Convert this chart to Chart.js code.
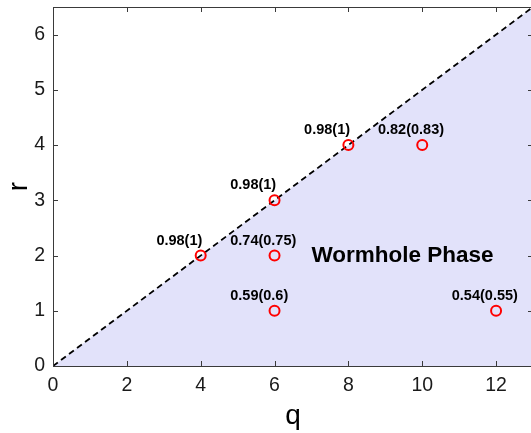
<!DOCTYPE html>
<html>
<head>
<meta charset="utf-8">
<script src="https://cdn.jsdelivr.net/npm/chart.js@4/dist/chart.umd.min.js"></script>
<style>
html,body{margin:0;padding:0;overflow:hidden;background:#fff;}
</style>
</head>
<body>
<canvas id="c" width="540" height="433"></canvas>
<script>
// ---- data ----
const pointQ = [4, 6, 8, 10, 6, 6, 12];
const pointR = [2, 3, 4, 4, 2, 1, 1];
const pointLabels = ["0.98(1)", "0.98(1)", "0.98(1)", "0.82(0.83)", "0.74(0.75)", "0.59(0.6)", "0.54(0.55)"];
const boundaryQ = [0, 13];
const boundaryR = [0, 6.5];
const xTicks = [0, 2, 4, 6, 8, 10, 12];
const yTicks = [0, 1, 2, 3, 4, 5, 6];
const regionLabel = "Wormhole Phase";
const regionQ = 7;
const regionR = 2;

const FONT = "'Liberation Sans', Arial, Helvetica, sans-serif";

const framePlugin = {
  id: 'frame',
  afterDatasetsDraw(chart) {
    const {ctx, chartArea: a, scales: {x, y}} = chart;
    ctx.save();
    ctx.fillStyle = '#000';
    ctx.font = 'bold 14.5px ' + FONT;
    ctx.textAlign = 'left';
    ctx.textBaseline = 'middle';
    pointLabels.forEach((t, i) => {
      ctx.fillText(t, x.getPixelForValue(pointQ[i] - 1.2), y.getPixelForValue(pointR[i] + 0.27));
    });
    ctx.font = 'bold 22.5px ' + FONT;
    ctx.fillText(regionLabel, x.getPixelForValue(regionQ), y.getPixelForValue(regionR));
    ctx.strokeStyle = '#3a3a3a';
    ctx.lineWidth = 1;
    ctx.strokeRect(Math.round(a.left) + 0.5, Math.round(a.top) + 0.5, Math.round(a.right - a.left), Math.round(a.bottom - a.top));
    ctx.beginPath();
    const L = 5;
    x.ticks.forEach(t => {
      const px = Math.round(x.getPixelForValue(t.value)) + 0.5;
      ctx.moveTo(px, a.bottom); ctx.lineTo(px, a.bottom - L);
      ctx.moveTo(px, a.top); ctx.lineTo(px, a.top + L);
    });
    y.ticks.forEach(t => {
      const py = Math.round(y.getPixelForValue(t.value)) + 0.5;
      ctx.moveTo(a.left, py); ctx.lineTo(a.left + L, py);
      ctx.moveTo(a.right, py); ctx.lineTo(a.right - L, py);
    });
    ctx.stroke();
    ctx.restore();
  }
};

new Chart(document.getElementById('c'), {
  type: 'scatter',
  data: {
    datasets: [
      {
        data: pointQ.map((q, i) => ({x: q, y: pointR[i]})),
        borderColor: '#ff0000',
        backgroundColor: 'rgba(0,0,0,0)',
        pointRadius: 5,
        pointBorderWidth: 2,
        pointStyle: 'circle',
        order: 1
      },
      {
        type: 'line',
        data: boundaryQ.map((q, i) => ({x: q, y: boundaryR[i]})),
        borderColor: '#000',
        borderWidth: 1.8,
        borderDash: [6, 4],
        backgroundColor: 'rgb(226,226,250)',
        fill: 'origin',
        pointRadius: 0,
        order: 2
      }
    ]
  },
  options: {
    responsive: false,
    animation: false,
    devicePixelRatio: 1,
    layout: {padding: {top: 5, right: 6, left: 0, bottom: 0}},
    plugins: {legend: {display: false}, tooltip: {enabled: false}},
    scales: {
      x: {
        type: 'linear', min: 0, max: 13,
        afterBuildTicks: s => { s.ticks = xTicks.map(v => ({value: v})); },
        afterFit: s => { s.height = 67; s.paddingLeft = 0; s.paddingRight = 0; },
        grid: {display: false, drawTicks: false},
        border: {display: false},
        ticks: {color: '#1a1a1a', font: {family: FONT, size: 19.5}, padding: 8},
        title: {display: true, text: 'q', color: '#000', font: {family: FONT, size: 28}, padding: {top: 0, bottom: 0}}
      },
      y: {
        type: 'linear', min: 0, max: 6.5,
        afterBuildTicks: s => { s.ticks = yTicks.map(v => ({value: v})); },
        afterFit: s => { s.width = 53; s.paddingTop = 0; s.paddingBottom = 0; },
        grid: {display: false, drawTicks: false},
        border: {display: false},
        ticks: {color: '#1a1a1a', font: {family: FONT, size: 19.5}, padding: 8},
        title: {display: true, text: 'r', color: '#000', font: {family: FONT, size: 28}, padding: {top: 2, bottom: 0}}
      }
    }
  },
  plugins: [framePlugin]
});
</script>
</body>
</html>
